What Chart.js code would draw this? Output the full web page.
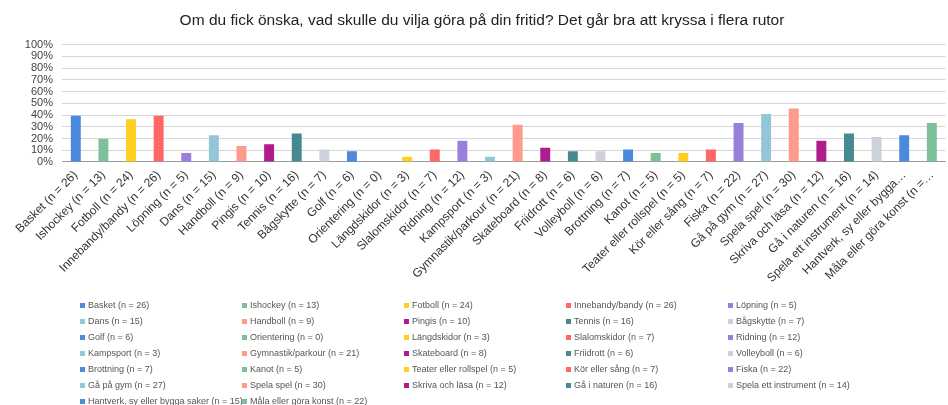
<!DOCTYPE html>
<html><head><meta charset="utf-8">
<script src="https://cdn.jsdelivr.net/npm/chart.js@4/dist/chart.umd.min.js"></script>
<style>
html,body{margin:0;padding:0;background:#fff;}
#wrap{position:relative;width:948px;height:405px;overflow:hidden;}
canvas{position:absolute;left:0;top:0;}
#legend{position:absolute;left:80px;top:297px;display:grid;grid-template-columns:repeat(5,162px);grid-auto-rows:16px;font:9px "Liberation Sans",Arial,sans-serif;color:#555;}
.item{display:flex;align-items:center;white-space:nowrap;}
.sw{width:5px;height:5px;margin-right:3px;flex:none;}
</style></head><body>
<div id="wrap"><canvas id="c" width="948" height="405"></canvas><div id="legend"></div></div>
<script>
const titleText = "Om du fick önska, vad skulle du vilja göra på din fritid? Det går bra att kryssa i flera rutor";

const categories = [
  "Basket (n = 26)", "Ishockey (n = 13)", "Fotboll (n = 24)", "Innebandy/bandy (n = 26)",
  "Löpning (n = 5)", "Dans (n = 15)", "Handboll (n = 9)", "Pingis (n = 10)",
  "Tennis (n = 16)", "Bågskytte (n = 7)", "Golf (n = 6)", "Orientering (n = 0)",
  "Längdskidor (n = 3)", "Slalomskidor (n = 7)", "Ridning (n = 12)", "Kampsport (n = 3)",
  "Gymnastik/parkour (n = 21)", "Skateboard (n = 8)", "Friidrott (n = 6)", "Volleyboll (n = 6)",
  "Brottning (n = 7)", "Kanot (n = 5)", "Teater eller rollspel (n = 5)", "Kör eller sång (n = 7)",
  "Fiska (n = 22)", "Gå på gym (n = 27)", "Spela spel (n = 30)", "Skriva och läsa (n = 12)",
  "Gå i naturen (n = 16)", "Spela ett instrument (n = 14)", "Hantverk, sy eller bygga saker (n = 15)", "Måla eller göra konst (n = 22)"
];

const tickLabels = [
  "Basket (n = 26)", "Ishockey (n = 13)", "Fotboll (n = 24)", "Innebandy/bandy (n = 26)",
  "Löpning (n = 5)", "Dans (n = 15)", "Handboll (n = 9)", "Pingis (n = 10)",
  "Tennis (n = 16)", "Bågskytte (n = 7)", "Golf (n = 6)", "Orientering (n = 0)",
  "Längdskidor (n = 3)", "Slalomskidor (n = 7)", "Ridning (n = 12)", "Kampsport (n = 3)",
  "Gymnastik/parkour (n = 21)", "Skateboard (n = 8)", "Friidrott (n = 6)", "Volleyboll (n = 6)",
  "Brottning (n = 7)", "Kanot (n = 5)", "Teater eller rollspel (n = 5)", "Kör eller sång (n = 7)",
  "Fiska (n = 22)", "Gå på gym (n = 27)", "Spela spel (n = 30)", "Skriva och läsa (n = 12)",
  "Gå i naturen (n = 16)", "Spela ett instrument (n = 14)", "Hantverk, sy eller bygga…", "Måla eller göra konst (n =…"
];

const percentValues = [
  39.4, 19.7, 36.4, 39.4,
  7.6, 22.7, 13.6, 15.2,
  24.2, 10.6, 9.1, 0,
  4.5, 10.6, 18.2, 4.5,
  31.8, 12.1, 9.1, 9.1,
  10.6, 7.6, 7.6, 10.6,
  33.3, 40.9, 45.5, 18.2,
  24.2, 21.2, 22.7, 33.3
];

const yTickStep = 10;

const palette = ["#4A89DC", "#7DC09A", "#FFCE1F", "#FF6666", "#9A7FDD",
                 "#94C6D9", "#FF9A8F", "#AE1C8E", "#468A8F", "#CDD1D9"];

const barColors = categories.map((_, i) => palette[i % palette.length]);

const chart = new Chart(document.getElementById('c'), {
  type: 'bar',
  data: {
    labels: tickLabels,
    datasets: [{
      data: percentValues,
      backgroundColor: barColors,
      borderWidth: 0,
      categoryPercentage: 1,
      barPercentage: 0.36
    }]
  },
  options: {
    responsive: false,
    devicePixelRatio: 1,
    animation: false,
    layout: { padding: { left: 16, right: 0, top: 0, bottom: 0 } },
    plugins: {
      legend: { display: false },
      tooltip: { enabled: false },
      title: {
        display: true,
        text: titleText,
        color: '#222',
        font: { family: '"Liberation Sans", Arial, sans-serif', size: 15.5, weight: 'normal' },
        padding: { top: 11, bottom: 15 }
      }
    },
    scales: {
      x: {
        offset: true,
        grid: { display: false, drawTicks: false },
        border: { display: true, color: '#9a9a9a', width: 1 },
        ticks: {
          autoSkip: false,
          maxRotation: 45, minRotation: 45,
          padding: 6,
          color: '#333',
          font: { family: '"Liberation Sans", Arial, sans-serif', size: 12 }
        },
        afterFit(scale) { scale.height = 243; }
      },
      y: {
        min: 0, max: 100,
        grid: { color: '#d6d6d6', lineWidth: 1, drawTicks: false },
        border: { display: false },
        ticks: {
          autoSkip: false,
          stepSize: yTickStep,
          padding: 9,
          color: '#444',
          font: { family: '"Liberation Sans", Arial, sans-serif', size: 11, lineHeight: 1 },
          callback: v => v + '%'
        },
        afterFit(scale) { scale.width = 46; }
      }
    }
  }
});

const legendEl = document.getElementById('legend');
categories.forEach((name, i) => {
  const it = document.createElement('div');
  it.className = 'item';
  const sw = document.createElement('span');
  sw.className = 'sw';
  sw.style.background = barColors[i];
  const tx = document.createElement('span');
  tx.textContent = name;
  it.appendChild(sw); it.appendChild(tx);
  legendEl.appendChild(it);
});
</script>
</body></html>
